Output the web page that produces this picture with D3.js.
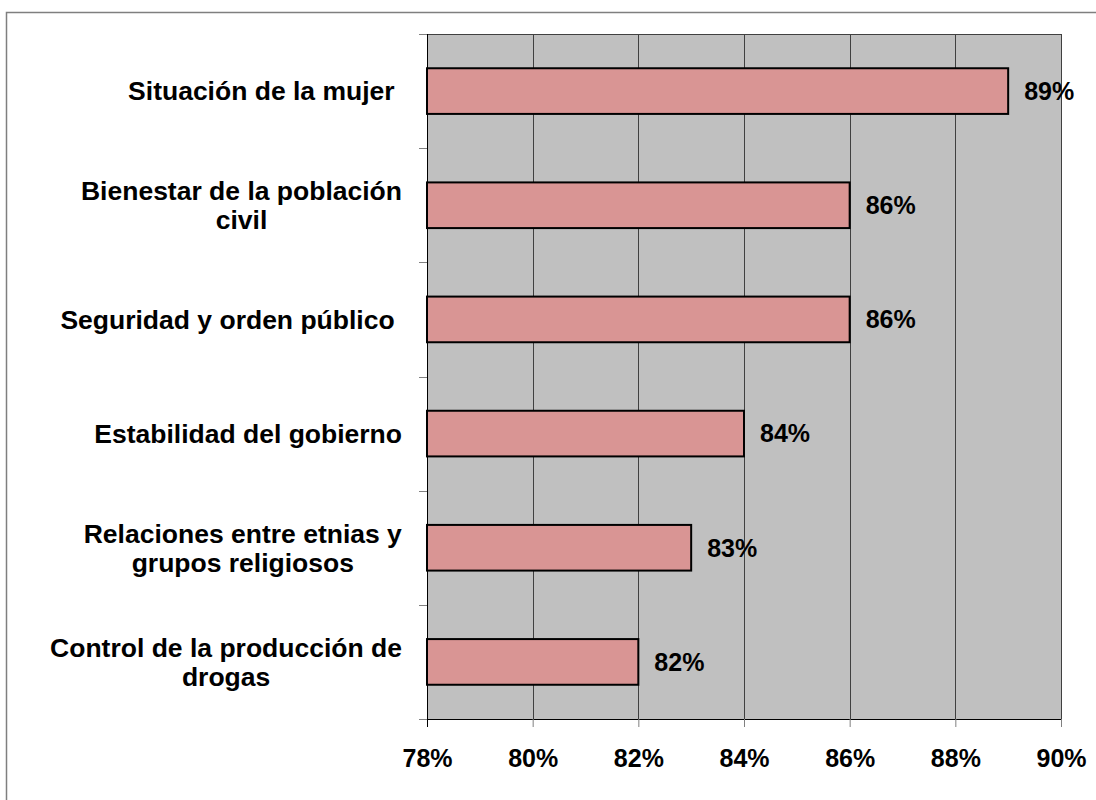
<!DOCTYPE html>
<html>
<head>
<meta charset="utf-8">
<script src="https://cdn.jsdelivr.net/npm/d3@7"></script>
<style>
  html, body { margin: 0; padding: 0; background: #fff; }
  text { font-family: "Liberation Sans", Arial, sans-serif; font-weight: bold; fill: #000; white-space: pre; }
</style>
</head>
<body>
<div id="chart"></div>
<script>
// Datos del gráfico
const categories = [
  ["Situación de la mujer "],
  ["Bienestar de la población", "civil"],
  ["Seguridad y orden público "],
  ["Estabilidad del gobierno"],
  ["Relaciones entre etnias y", "grupos religiosos"],
  ["Control de la producción de", "drogas"]
];
const values = [0.89, 0.86, 0.86, 0.84, 0.83, 0.82];
const xTicks = [0.78, 0.80, 0.82, 0.84, 0.86, 0.88, 0.90];

const W = 1096, H = 800;
const plot = { left: 427, right: 1061, top: 34, bottom: 719 };

const svg = d3.select("#chart").append("svg")
  .attr("width", W)
  .attr("height", H);

// Marco exterior
svg.append("rect")
  .attr("x", 6.5).attr("y", 12.5)
  .attr("width", W).attr("height", H)
  .attr("fill", "#fff")
  .attr("stroke", "#7f7f7f")
  .attr("stroke-width", 1.5);

const x = d3.scaleLinear()
  .domain([0.78, 0.90])
  .range([plot.left, plot.right]);

const y = d3.scaleBand()
  .domain(d3.range(categories.length))
  .range([plot.top, plot.bottom])
  .paddingInner(0.6)
  .paddingOuter(0.3);

// Fondo del área de trazado
svg.append("rect")
  .attr("x", plot.left).attr("y", plot.top)
  .attr("width", plot.right - plot.left)
  .attr("height", plot.bottom - plot.top)
  .attr("fill", "#c0c0c0");

// Líneas de cuadrícula
svg.append("g")
  .selectAll("line")
  .data(xTicks.slice(1))
  .join("line")
  .attr("x1", d => Math.round(x(d)) + 0.5)
  .attr("x2", d => Math.round(x(d)) + 0.5)
  .attr("y1", plot.top)
  .attr("y2", plot.bottom)
  .attr("stroke", "#404040")
  .attr("stroke-width", 1);

// Borde superior
svg.append("line")
  .attr("x1", plot.left).attr("x2", plot.right + 0.5)
  .attr("y1", plot.top + 0.5).attr("y2", plot.top + 0.5)
  .attr("stroke", "#404040");

// Barras
svg.append("g")
  .selectAll("rect")
  .data(values)
  .join("rect")
  .attr("x", x(0.78))
  .attr("y", (d, i) => y(i))
  .attr("width", d => x(d) - x(0.78))
  .attr("height", y.bandwidth())
  .attr("fill", "#d99594")
  .attr("stroke", "#000")
  .attr("stroke-width", 2);

// Etiquetas de valor
svg.append("g")
  .selectAll("text")
  .data(values)
  .join("text")
  .attr("x", d => x(d) + 16)
  .attr("y", (d, i) => y(i) + y.bandwidth() / 2)
  .attr("dy", "0.35em")
  .style("font-size", "25px")
  .text(d => d3.format(".0%")(d));

// Eje X
const xAxis = svg.append("g")
  .attr("transform", `translate(0,${plot.bottom})`)
  .call(d3.axisBottom(x).tickValues(xTicks).tickFormat(d3.format(".0%")).tickSize(8).tickSizeOuter(0).tickPadding(22));
xAxis.select(".domain").attr("stroke", "#000");
xAxis.selectAll(".tick line").attr("stroke", "#808080");
xAxis.selectAll("text").style("font-size", "25px").attr("font-family", null);

// Eje Y (marcas entre categorías)
const yEdges = d3.range(categories.length + 1).map(i => plot.top + i * (plot.bottom - plot.top) / categories.length);
svg.append("line")
  .attr("x1", plot.left + 0.5).attr("x2", plot.left + 0.5)
  .attr("y1", plot.top).attr("y2", plot.bottom + 8)
  .attr("stroke", "#000");
svg.append("g")
  .selectAll("line")
  .data(yEdges)
  .join("line")
  .attr("x1", plot.left - 8).attr("x2", plot.left)
  .attr("y1", d => Math.round(d) + 0.5)
  .attr("y2", d => Math.round(d) + 0.5)
  .attr("stroke", "#808080");

// Etiquetas de categoría
const labelRight = 402;
const lineH = 29;
const catG = svg.append("g");
categories.forEach((lines, i) => {
  const cy = y(i) + y.bandwidth() / 2;
  const t = catG.append("text")
    .style("font-size", "26.5px")
    .attr("text-anchor", "middle");
  lines.forEach((ln, j) => {
    t.append("tspan")
      .attr("x", 0)
      .attr("y", cy + (j - (lines.length - 1) / 2) * lineH)
      .attr("dy", "0.35em")
      .text(ln);
  });
  // centrar las líneas dentro de un bloque alineado a la derecha
  const w = t.node().getBBox().width;
  t.selectAll("tspan").attr("x", labelRight - w / 2);
});
</script>
</body>
</html>
